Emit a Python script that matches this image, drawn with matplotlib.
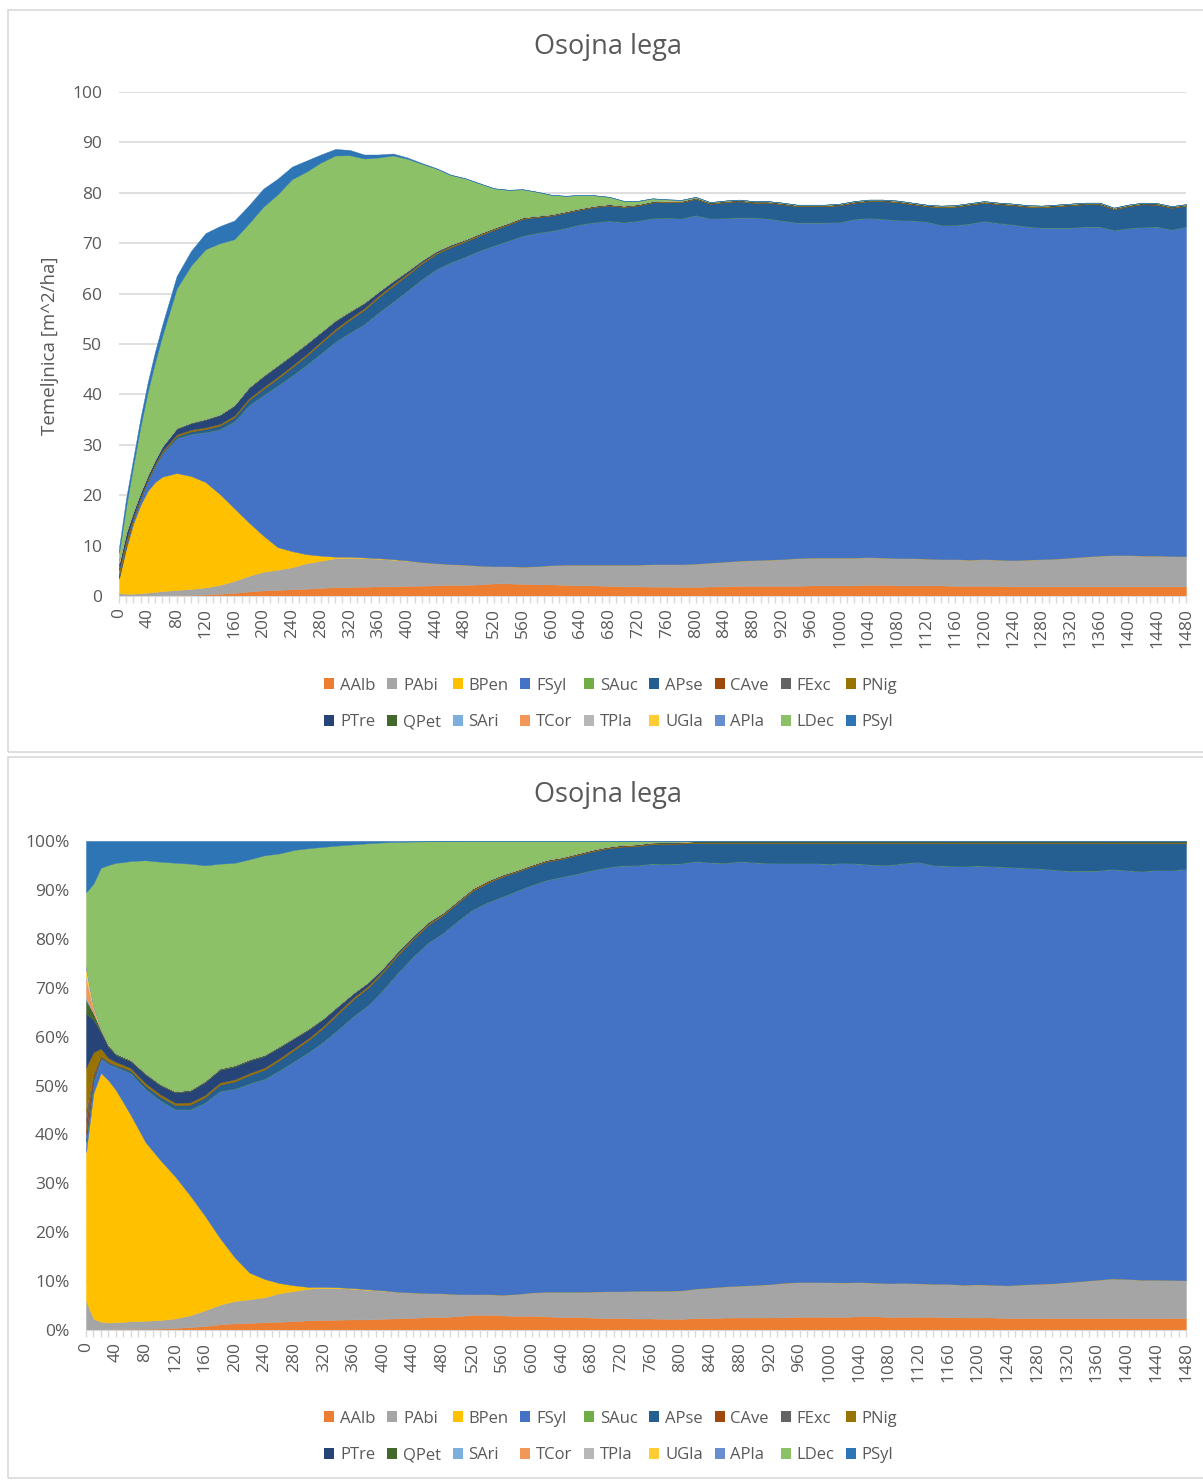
import numpy as np
import matplotlib
matplotlib.use("Agg")
import matplotlib.pyplot as plt
from matplotlib.patches import Patch, Rectangle
from matplotlib.ticker import MultipleLocator

plt.rcParams['font.family'] = ['Open Sans', 'DejaVu Sans']

# ---------------- data (basal area, m^2/ha) ----------------
years = [0, 10, 20, 30, 40, 50, 60,
         80, 100, 120, 140, 160, 180, 200, 220, 240, 260, 280, 300, 320, 340, 360, 380, 400,
         420, 440, 460, 480, 500, 520, 540, 560, 580, 600, 620, 640, 660, 680, 700, 720, 740,
         760, 780, 800, 820, 840, 860, 880, 900, 920, 940, 960, 980, 1000, 1020, 1040, 1060,
         1080, 1100, 1120, 1140, 1160, 1180, 1200, 1220, 1240, 1260, 1280, 1300, 1320, 1340,
         1360, 1380, 1400, 1420, 1440, 1460, 1480]

AAlb = [0, 0, 0.02, 0.04, 0.08, 0.1, 0.12,
        0.15, 0.2, 0.3, 0.45, 0.6, 0.9, 1.1, 1.2, 1.35, 1.45, 1.6, 1.75, 1.8, 1.85, 1.9, 1.9, 2.0,
        2.05, 2.1, 2.2, 2.2, 2.3, 2.5, 2.5, 2.4, 2.3, 2.3, 2.2, 2.1, 2.1, 2.0, 1.9, 1.9, 1.85,
        1.85, 1.8, 1.8,
        1.9, 1.9, 2.0, 2.0, 2.0, 2.0, 2.0, 2.1, 2.1, 2.1, 2.1, 2.2, 2.2, 2.1, 2.1, 2.1, 2.1,
        2.0, 2.0, 2.0, 2.0, 1.9, 1.9, 1.9, 1.9, 1.9, 1.9, 1.9, 1.9, 1.9, 1.9, 1.9, 1.9, 1.9]
PAbi = [0.57, 0.45, 0.45, 0.5, 0.6, 0.7, 0.85,
        1.05, 1.2, 1.4, 1.75, 2.4, 3.1, 3.7, 4.0, 4.35, 5.05, 5.4, 5.75, 5.8, 5.65, 5.5, 5.3, 5.0,
        4.65, 4.4, 4.1, 4.0, 3.7, 3.4, 3.4, 3.4, 3.6, 3.8, 4.0, 4.1, 4.1, 4.2, 4.3, 4.3, 4.45,
        4.45, 4.5, 4.6,
        4.7, 4.9, 5.0, 5.1, 5.2, 5.3, 5.5, 5.5, 5.5, 5.5, 5.5, 5.5, 5.4, 5.4, 5.4, 5.3, 5.2,
        5.3, 5.2, 5.3, 5.2, 5.2, 5.3, 5.4, 5.5, 5.7, 5.9, 6.1, 6.2, 6.2, 6.1, 6.1, 6.0, 6.0]
BPen = [2.9, 9.0, 14.0, 17.6, 20.2, 21.8, 22.7,
        23.2, 22.4, 20.9, 18.0, 14.4, 10.6, 7.2, 4.5, 3.2, 1.8, 1.0, 0.3, 0.2, 0.15, 0.1, 0.1, 0.05,
        0, 0, 0, 0, 0, 0, 0, 0, 0, 0, 0, 0, 0, 0, 0, 0, 0, 0, 0, 0,
        0, 0, 0, 0, 0, 0, 0, 0, 0, 0, 0, 0, 0, 0, 0, 0, 0,
        0, 0, 0, 0, 0, 0, 0, 0, 0, 0, 0, 0, 0, 0, 0, 0, 0]
FSyl = [0.2, 0.5, 0.8, 1.2, 2.0, 3.2, 4.6,
        6.9, 8.35, 9.9, 12.9, 17.25, 23.25, 27.85, 32.05, 34.85, 37.55, 40.15, 42.65, 44.45, 46.3,
        48.75, 51.1, 53.55, 56.15, 58.35, 59.9, 61.1, 62.52, 63.65, 64.6, 65.7, 66.16, 66.36,
        66.86, 67.56, 67.96, 68.26, 67.96, 68.26, 68.66, 68.76, 68.61, 69.16,
        68.3, 68.2, 68.1, 68.0, 67.7, 67.2, 66.6, 66.5, 66.5, 66.6, 67.2, 67.3, 67.2, 67.1, 67.0,
        66.9, 66.3, 66.3, 66.7, 67.1, 66.8, 66.6, 66.1, 65.8, 65.7, 65.5, 65.5, 65.3, 64.5, 64.9,
        65.2, 65.3, 64.8, 65.4]
SAuc = [0, 0, 0.01, 0.01] + [0.02] * 74
APse = [0.15, 0.1, 0.08, 0.1, 0.12, 0.2, 0.25,
        0.4, 0.5, 0.6, 0.7, 0.8, 1.0, 1.2, 1.4, 1.6, 1.8, 2.0, 2.2, 2.5, 2.8, 3.0, 3.1, 3.1, 3.1,
        3.0, 3.0, 3.0, 3.0, 3.1, 3.2, 3.3, 3.1, 3.0, 3.0, 2.9, 3.0, 3.0, 3.0, 3.0, 3.1, 3.1, 3.2,
        3.2,
        2.9, 3.1, 3.2, 2.9, 3.1, 3.2, 3.2, 3.2, 3.2, 3.3, 3.2, 3.3, 3.5, 3.5, 3.2, 3.0, 3.5, 3.6,
        3.7, 3.6, 3.7, 3.8, 3.9, 4.0, 4.2, 4.4, 4.4, 4.4, 4.1, 4.3, 4.5, 4.3, 4.3, 4.1]
CAve = [0.25, 0.15, 0.05, 0.03] + [0.02] * 74
FExc = [0.2, 0.08, 0.03, 0.03] + [0.02] * 74
PNig = [0.85, 0.8, 0.4, 0.25, 0.25, 0.25, 0.25] + [0.3] * 16 + [0.25, 0.25, 0.2, 0.2, 0.2, 0.2,
        0.2, 0.15, 0.15] + [0.12] * 12 + [0.12] * 34
PTre = [1.05, 1.3, 0.9, 0.8, 0.6, 0.65, 0.75,
        1.1, 1.25, 1.5, 1.7, 1.9, 2.0, 2.1, 2.1, 2.0, 1.9, 1.7, 1.5, 1.2, 0.9, 0.65, 0.5, 0.35,
        0.25, 0.2, 0.15, 0.1, 0.08, 0.05, 0.05, 0.05] + [0.04] * 12 + [0.04] * 34
QPet = [0.27, 0.25, 0.15, 0.15, 0.15, 0.15, 0.15,
        0.2, 0.2, 0.2, 0.2, 0.25, 0.25, 0.25, 0.25, 0.25, 0.25, 0.25, 0.25, 0.25, 0.25, 0.2, 0.2,
        0.2, 0.15, 0.15, 0.15, 0.1, 0.1, 0.1, 0.1, 0.1] + [0.08] * 12 + [0.08] * 34
SAri = [0.05, 0.02, 0.01, 0] + [0.01] * 74
TCor = [0.35, 0.15, 0.03, 0.01] + [0] * 74
TPla = [0.05, 0.02, 0.01, 0] + [0] * 74
UGla = [0.15, 0.06, 0.03, 0.03] + [0.03] * 74
APla = [0.05, 0.02, 0.01, 0] + [0] * 74
LDec = [1.45, 4.9, 9.03, 13.01, 16.51, 19.26, 21.84,
        27.6, 31.1, 33.6, 33.9, 32.8, 32.4, 33.4, 33.8, 34.7, 34.0, 33.5, 32.6, 30.85, 28.5, 26.5,
        24.8, 22.15, 19.05, 16.3, 13.75, 12.07, 9.88, 7.8, 6.5, 5.5, 4.7, 3.8, 3.0, 2.6, 2.0, 1.4,
        0.9, 0.6, 0.5, 0.2, 0.15, 0.1] + [0] * 34
PSyl = [1.0, 1.7, 1.5, 1.75, 1.9, 2.1, 2.2,
        2.5, 2.9, 3.2, 3.4, 3.7, 3.6, 3.6, 3.1, 2.5, 2.2, 1.6, 1.3, 1.05, 0.8, 0.6, 0.4, 0.25, 0.15,
        0.1, 0.05, 0.03, 0.02] + [0] * 15 + [0] * 34

species = ['AAlb', 'PAbi', 'BPen', 'FSyl', 'SAuc', 'APse', 'CAve', 'FExc', 'PNig',
           'PTre', 'QPet', 'SAri', 'TCor', 'TPla', 'UGla', 'APla', 'LDec', 'PSyl']
series = [AAlb, PAbi, BPen, FSyl, SAuc, APse, CAve, FExc, PNig,
          PTre, QPet, SAri, TCor, TPla, UGla, APla, LDec, PSyl]
colors = ['#ED7D31', '#A5A5A5', '#FFC000', '#4472C4', '#70AD47', '#255E91', '#9E480E',
          '#636363', '#997300', '#264478', '#43682B', '#7CAFDD', '#F1975A', '#B7B7B7',
          '#FFCD33', '#698ED0', '#8CC168', '#2E75B6']

yrs = np.array(years, dtype=float)
data = np.array(series, dtype=float)
total = data.sum(axis=0)
pct = data / total * 100.0

# ---------------- figure ----------------
W, H = 1203, 1481
fig = plt.figure(figsize=(W / 100, H / 100), dpi=100)
TXT = '#595959'
GRID = '#D9D9D9'


def px_axes(l, t, r, b):
    return fig.add_axes([l / W, 1 - b / H, (r - l) / W, (b - t) / H])


# panel frames
fig.add_artist(Rectangle((8 / W, 1 - 752 / H), (1215 - 8) / W, (752 - 10) / H,
                         transform=fig.transFigure, fill=False, edgecolor=GRID, lw=1.2))
fig.add_artist(Rectangle((8 / W, 1 - 1478 / H), (1215 - 8) / W, (1478 - 757) / H,
                         transform=fig.transFigure, fill=False, edgecolor=GRID, lw=1.2))


def style(ax, ymax, ystep, fmt):
    ax.set_xlim(0, 1480)
    ax.set_ylim(0, ymax)
    ax.xaxis.set_minor_locator(MultipleLocator(10))
    ax.set_xticks(np.arange(0, 1481, 40))
    ax.set_xticklabels([str(v) for v in range(0, 1481, 40)], rotation=90,
                       fontsize=12.5, color=TXT)
    ax.tick_params(axis='x', which='both', length=5, color=GRID, width=1, pad=4)
    ax.set_yticks(np.arange(0, ymax + 0.1, ystep))
    ax.set_yticklabels([fmt(v) for v in np.arange(0, ymax + 0.1, ystep)],
                       fontsize=12.5, color=TXT)
    ax.tick_params(axis='y', length=0, pad=12)
    for s in ['top', 'right', 'left']:
        ax.spines[s].set_visible(False)
    ax.spines['bottom'].set_color(GRID)
    ax.grid(axis='y', color=GRID, lw=1.2)
    ax.set_axisbelow(True)
    ax.set_facecolor('none')


# ---- top chart: absolute ----
ax1 = px_axes(119, 92, 1186, 596)
ax1.stackplot(yrs, *data, colors=colors, labels=species, lw=0.3, edgecolor='face')
style(ax1, 100, 10, lambda v: f'{int(v)}')
fig.text(608 / W, 1 - 47 / H, 'Osojna lega', ha='center', va='center', fontsize=19.5, color=TXT)
fig.text(50 / W, 1 - 346 / H, 'Temeljnica [m^2/ha]', rotation=90, ha='center', va='center',
         fontsize=13.5, color=TXT)

# ---- bottom chart: 100 % stacked ----
ax2 = px_axes(86, 841, 1186, 1330)
ax2.stackplot(yrs, *pct, colors=colors, labels=species, lw=0.3, edgecolor='face')
style(ax2, 100, 10, lambda v: f'{int(v)}%')
fig.text(608 / W, 1 - 795 / H, 'Osojna lega', ha='center', va='center', fontsize=19.5, color=TXT)

# ---- legends (row-major ordering) ----
handles = [Patch(facecolor=c, edgecolor='none') for c in colors]
order = []
for i in range(9):
    order += [i, i + 9]
h_ord = [handles[i] for i in order]
l_ord = [species[i] for i in order]
for yc in (704, 1437):
    fig.legend(h_ord, l_ord, ncol=9, loc='center', bbox_to_anchor=(611 / W, 1 - yc / H),
               frameon=False, fontsize=12, handlelength=0.6, handleheight=0.6,
               handletextpad=0.35, columnspacing=0.7, labelspacing=1.25, labelcolor=TXT)

fig.savefig('out.png', dpi=100, facecolor='white')
